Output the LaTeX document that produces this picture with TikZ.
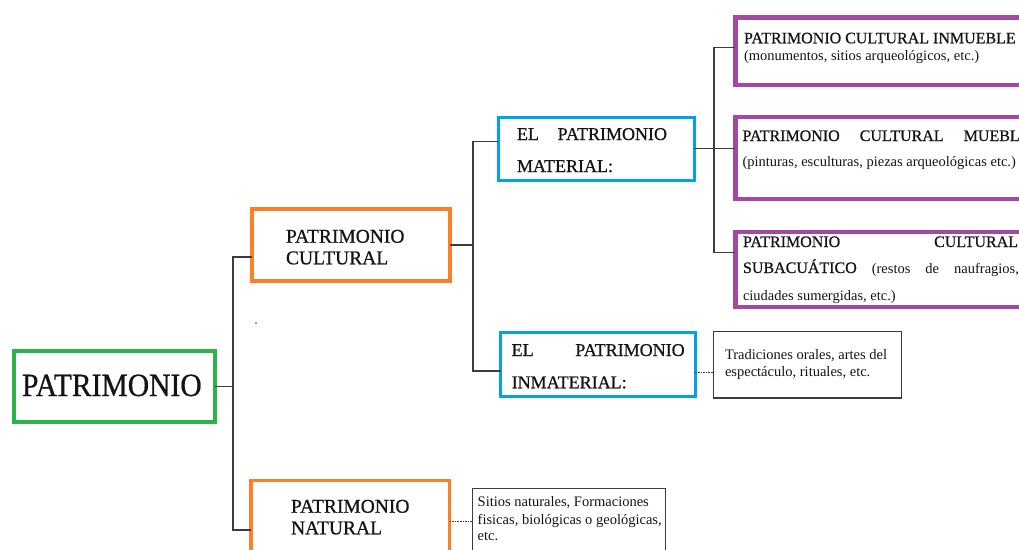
\documentclass[tikz,border=0pt]{standalone}
\usepackage{fontspec}
\setmainfont{Liberation Serif}
\newfontfamily\capsfont[FakeBold=0.7]{Liberation Serif}
\definecolor{cgreen}{RGB}{44,179,74}
\definecolor{corange}{RGB}{255,127,39}
\definecolor{cblue}{RGB}{0,162,232}
\definecolor{cpurple}{RGB}{163,73,164}
\definecolor{cline}{RGB}{60,60,60}
\definecolor{ctext}{RGB}{20,20,20}
\tikzset{
  box/.style={draw, rectangle, inner sep=0, outer sep=0},
  greenbox/.style={box, draw=cgreen, line width=3.5pt},
  orangebox/.style={box, draw=corange, line width=3.6pt},
  bluebox/.style={box, draw=cblue, line width=3.4pt},
  purplebox/.style={box, draw=cpurple, line width=4.4pt},
  notebox/.style={box, draw=cline, line width=1.3pt},
  conn/.style={draw=cline, line width=1.3pt},
  dotconn/.style={draw=cline, line width=0.9pt, dash pattern=on 1.6pt off 1pt},
  lbl/.style={anchor=base west, inner sep=0, outer sep=0, text=ctext},
  tbig/.style={lbl, font=\capsfont\fontsize{29}{34}\selectfont},
  tmid/.style={lbl, font=\capsfont\fontsize{19.5}{23}\selectfont},
  tblue/.style={lbl, font=\capsfont\fontsize{18}{22}\selectfont},
  tcap/.style={lbl, font=\capsfont\fontsize{16}{19}\selectfont},
  tsm/.style={lbl, font=\fontsize{14.5}{17}\selectfont},
}
\begin{document}
\begin{tikzpicture}[x=1pt, y=-1pt]
\useasboundingbox (0,0) rectangle (1019,549);
\fill[white] (0,0) rectangle (1019,549);
\clip (0,0) rectangle (1019,549);

% boxes
\node[greenbox, minimum width=201pt, minimum height=71pt] (patr) at (114.5,386.5) {};
\node[orangebox, minimum width=198pt, minimum height=72pt] (cult) at (351,245) {};
\node[orangebox, minimum width=198.5pt, minimum height=119.5pt] (nat) at (350.25,540.25) {};
\node[bluebox, minimum width=196pt, minimum height=63pt] (mat) at (596.3,148.8) {};
\node[bluebox, minimum width=194.8pt, minimum height=63.6pt] (inmat) at (597.9,364.5) {};
\node[notebox, minimum width=188pt, minimum height=66.5pt] (inmnote) at (807.5,364.75) {};
\node[notebox, minimum width=193pt, minimum height=111.5pt] (natnote) at (569,544.25) {};
\node[purplebox, minimum width=324.7pt, minimum height=67.5pt] (pur1) at (897.65,51.25) {};
\node[purplebox, minimum width=324.7pt, minimum height=82.3pt] (pur2) at (897.65,157.85) {};
\node[purplebox, minimum width=324.7pt, minimum height=75.3pt] (pur3) at (897.65,269.35) {};

% texts
\node[tbig] (patrT) at (22,396) {\scalebox{1.02}[1.12]{PATRIMONIO}};
\node[tmid] (cultT1) at (286,242.7) {PATRIMONIO};
\node[tmid] (cultT2) at (286,264.3) {CULTURAL};
\node[tmid] (natT1) at (291,512.7) {PATRIMONIO};
\node[tmid] (natT2) at (291,534.3) {NATURAL};
\node[tblue] (matT1) at (517,140) {\makebox[150pt][s]{EL PATRIMONIO}};
\node[tblue] (matT2) at (517,172) {MATERIAL:};
\node[tblue] (inmT1) at (511.7,356) {\makebox[173pt][s]{EL PATRIMONIO}};
\node[tblue] (inmT2) at (511.7,388.3) {INMATERIAL:};
\node[tsm] (inmN1) at (725,359.3) {Tradiciones orales, artes del};
\node[tsm] (inmN2) at (725,376) {espectáculo, rituales, etc.};
\node[tsm] (natN1) at (477.7,506) {Sitios naturales, Formaciones};
\node[tsm] (natN2) at (477.7,524) {fisicas, biológicas o geológicas,};
\node[tsm] (natN3) at (477.7,540.7) {etc.};
\node[tcap] (p1a) at (744,43.3) {PATRIMONIO CULTURAL INMUEBLE};
\node[tsm] (p1b) at (744,60) {(monumentos, sitios arqueológicos, etc.)};
\node[tcap] (p2a) at (742.5,141) {\makebox[287pt][s]{PATRIMONIO CULTURAL MUEBLE}};
\node[tsm] (p2b) at (742.5,166.7) {(pinturas, esculturas, piezas arqueológicas etc.)};
\node[tcap] (p3a) at (743,247) {\makebox[275pt][s]{PATRIMONIO CULTURAL}};
\node[tsm] (p3b) at (743,273) {\makebox[276pt][s]{{\capsfont\fontsize{16}{19}\selectfont SUBACUÁTICO} (restos de naufragios,}};
\node[tsm] (p3c) at (743,300) {ciudades sumergidas, etc.)};

% connectors
\coordinate (b1) at (233,386.5);
\coordinate (b2) at (473,245);
\coordinate (b3) at (714,148.8);
\draw[conn] (patr.east) -- (b1);
\draw[conn] ([yshift=-12pt]cult.west) -| (b1) |- ([yshift=10.25pt]nat.west);
\draw[conn] (cult.east) -- (b2);
\draw[conn] ([yshift=7pt]mat.west) -| (b2) |- ([yshift=-6.5pt]inmat.west);
\draw[conn] (mat.east) -- (mat.east -| pur2.west);
\draw[conn] ([yshift=4pt]pur1.west) -| (b3) |- ([yshift=17pt]pur3.west);
\draw[dotconn] ([yshift=-8pt]inmat.east) -- ([yshift=-8pt]inmat.east -| inmnote.west);
\draw[dotconn] ([yshift=19pt]nat.east) -- ([yshift=19pt]nat.east -| natnote.west);

% stray dot
\fill[cline] (256,323) circle (0.8pt);
\end{tikzpicture}
\end{document}
